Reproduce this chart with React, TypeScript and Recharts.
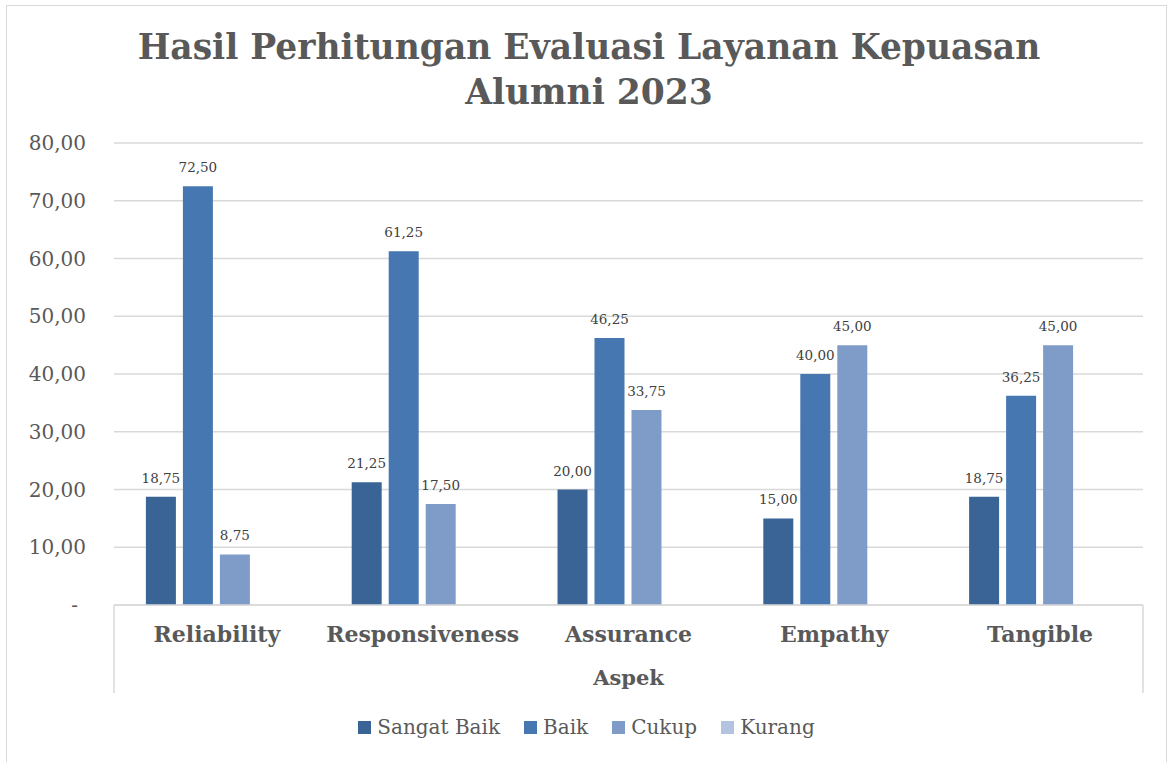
import React from 'react';
import { BarChart, Bar, XAxis, YAxis, CartesianGrid, LabelList } from 'recharts';

const categories = ['Reliability', 'Responsiveness', 'Assurance', 'Empathy', 'Tangible'];
const sangatBaik = [18.75, 21.25, 20.0, 15.0, 18.75];
const baik = [72.5, 61.25, 46.25, 40.0, 36.25];
const cukup = [8.75, 17.5, 33.75, 45.0, 45.0];
const kurang = [0, 0, 0, 0, 0];
const seriesNames = ['Sangat Baik', 'Baik', 'Cukup', 'Kurang'];
const seriesKeys = ['sangatBaik', 'baik', 'cukup', 'kurang'];
const yTicks = [0, 10, 20, 30, 40, 50, 60, 70, 80];

const colors = ['#3b6496', '#4677b0', '#7f9cc9', '#b4c4e0'];
const textColor = '#595959';
const gridColor = '#d9d9d9';
const serif = '"DejaVu Serif", serif';

const W = 1173;
const H = 762;
const plotLeft = 114;
const plotRight = 1143;
const band = (plotRight - plotLeft) / categories.length;

const data = categories.map((c, i) => ({
  aspek: c,
  sangatBaik: sangatBaik[i],
  baik: baik[i],
  cukup: cukup[i],
  kurang: kurang[i],
}));

const fmt = (v: number) => (v === 0 ? '-' : v.toFixed(2).replace('.', ','));

const YTick = ({ y, payload }: any) => (
  <text
    x={payload.value === 0 ? 78 : 86}
    y={y}
    dy={7}
    textAnchor="end"
    fill={textColor}
    fontFamily={serif}
    fontSize={20}
  >
    {fmt(payload.value)}
  </text>
);

const XTick = ({ x, y, payload, index }: any) => (
  <g>
    {index === 0 && <line x1={x - band / 2} x2={x - band / 2} y1={y - 8} y2={y + 80} stroke={gridColor} strokeWidth={1.5} />}
    {index === categories.length - 1 && (
      <line x1={x + band / 2} x2={x + band / 2} y1={y - 8} y2={y + 80} stroke={gridColor} strokeWidth={1.5} />
    )}
    <text x={x} y={y + 29} textAnchor="middle" fill={textColor} fontFamily={serif} fontWeight="bold" fontSize={22}>
      {payload.value}
    </text>
  </g>
);

const AspekLabel = ({ viewBox }: any) => (
  <text
    x={viewBox.x + viewBox.width / 2}
    y={685}
    textAnchor="middle"
    fill={textColor}
    fontFamily={serif}
    fontWeight="bold"
    fontSize={21}
  >
    Aspek
  </text>
);

export default function App() {
  return (
    <div style={{ position: 'absolute', left: 0, top: 0, width: W, height: H, background: '#fff', overflow: 'hidden' }}>
      <div
        style={{
          position: 'absolute',
          left: 6,
          top: 5,
          width: 1161,
          height: 800,
          border: `1.5px solid ${gridColor}`,
          boxSizing: 'border-box',
        }}
      />
      <div
        style={{
          position: 'absolute',
          left: 0,
          top: 25,
          width: 1178,
          textAlign: 'center',
          fontFamily: serif,
          fontWeight: 'bold',
          fontSize: 34.5,
          lineHeight: '45px',
          color: textColor,
        }}
      >
        Hasil Perhitungan Evaluasi Layanan Kepuasan
        <br />
        Alumni 2023
      </div>
      <div style={{ position: 'absolute', left: 0, top: 0 }}>
        <BarChart
          width={W}
          height={H}
          data={data}
          margin={{ top: 143, right: W - plotRight, bottom: 62, left: 0 }}
          barCategoryGap="15.5%"
          barGap={7}
        >
          <CartesianGrid vertical={false} stroke={gridColor} strokeWidth={1.5} />
          <XAxis
            dataKey="aspek"
            height={95}
            axisLine={{ stroke: gridColor, strokeWidth: 1.5 }}
            tickLine={false}
            tick={<XTick />}
            interval={0}
            label={<AspekLabel />}
          />
          <YAxis
            width={plotLeft}
            domain={[0, 80]}
            ticks={yTicks}
            axisLine={false}
            tickLine={false}
            tick={<YTick />}
          />
          {seriesKeys.map((k, i) => (
            <Bar key={k} dataKey={k} name={seriesNames[i]} fill={colors[i]} isAnimationActive={false}>
              {k !== 'kurang' && (
                <LabelList
                  dataKey={k}
                  position="top"
                  offset={14}
                  formatter={(v: any) => fmt(Number(v))}
                  fill="#404040"
                  fontFamily={serif}
                  fontSize={13.5}
                />
              )}
            </Bar>
          ))}
        </BarChart>
      </div>
      <div
        style={{
          position: 'absolute',
          left: 0,
          top: 715,
          width: W,
          display: 'flex',
          justifyContent: 'center',
          gap: 24,
          fontFamily: serif,
          fontSize: 20,
          color: textColor,
        }}
      >
        {seriesNames.map((n, i) => (
          <div key={n} style={{ display: 'flex', alignItems: 'center', gap: 6 }}>
            <span style={{ width: 13, height: 13, background: colors[i], display: 'inline-block' }} />
            <span>{n}</span>
          </div>
        ))}
      </div>
    </div>
  );
}
